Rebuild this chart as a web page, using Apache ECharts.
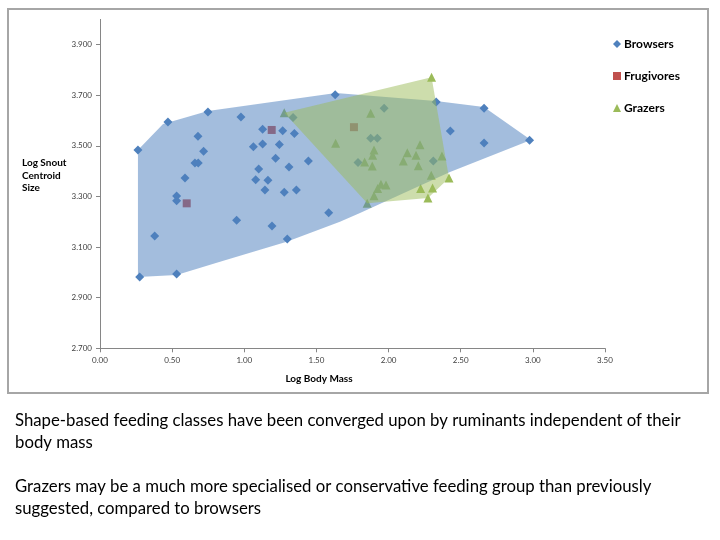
<!DOCTYPE html>
<html>
<head>
<meta charset="utf-8">
<script src="https://cdn.jsdelivr.net/npm/echarts@6/dist/echarts.min.js"></script>
<style>
  html, body { margin: 0; padding: 0; background: #fff; }
  #chart { width: 720px; height: 540px; }
</style>
</head>
<body>
<div id="chart"></div>
<script>
// points: [log body mass, log snout centroid size]
var browsers = [
  [0.263, 3.484], [0.471, 3.594], [0.748, 3.634], [0.977, 3.614], [1.630, 3.702],
  [2.330, 3.674], [2.662, 3.649], [2.977, 3.522], [2.662, 3.511], [2.428, 3.559],
  [1.969, 3.649], [1.338, 3.612], [1.127, 3.566], [1.266, 3.560], [1.347, 3.549],
  [0.679, 3.538], [1.063, 3.497], [1.127, 3.508], [1.243, 3.506], [0.718, 3.479],
  [0.658, 3.432], [0.681, 3.432], [1.217, 3.451], [1.444, 3.440], [1.310, 3.417],
  [1.100, 3.409], [0.589, 3.373], [1.079, 3.366], [1.164, 3.364], [1.143, 3.326],
  [1.277, 3.317], [1.361, 3.326], [0.531, 3.302], [0.531, 3.283], [0.947, 3.206],
  [1.192, 3.183], [1.585, 3.236], [0.379, 3.144], [1.298, 3.132], [0.275, 2.982],
  [0.531, 2.994], [1.876, 3.530], [1.922, 3.530], [1.788, 3.434], [2.310, 3.440]
];
var frugivores = [[1.190, 3.563], [0.601, 3.273], [1.760, 3.574]];
var grazers = [
  [2.298, 3.771], [1.277, 3.631], [1.876, 3.629], [1.633, 3.510], [1.899, 3.484],
  [1.890, 3.463], [1.834, 3.436], [1.887, 3.421], [2.218, 3.505], [2.130, 3.473],
  [2.190, 3.463], [2.102, 3.440], [2.206, 3.422], [2.370, 3.460], [2.296, 3.384],
  [2.419, 3.373], [1.982, 3.345], [1.947, 3.348], [1.924, 3.332], [1.899, 3.303],
  [1.852, 3.273], [2.222, 3.332], [2.305, 3.334], [2.273, 3.294]
];

// outlines of the two shaded regions (data units)
var browserHull = [
  [0.263, 2.982], [0.263, 3.484], [0.437, 3.587], [0.748, 3.638], [1.635, 3.709],
  [2.328, 3.677], [2.661, 3.654], [2.987, 3.523], [2.426, 3.397], [1.802, 3.235],
  [1.663, 3.200], [1.294, 3.121], [0.832, 3.042], [0.531, 2.990]
];
var grazerHull = [[1.277, 3.631], [2.298, 3.771], [2.419, 3.373], [2.273, 3.294], [1.852, 3.273]];

var xTicks = [0, 3.5, 0.5];          // min, max, step
var yTicks = [2.7, 4.0, 0.2];

var notes = 'Shape-based feeding classes have been converged upon by ruminants independent of their\nbody mass\n\nGrazers may be a much more specialised or conservative feeding group than previously\nsuggested, compared to browsers';

var font = "Lato, 'Liberation Sans', sans-serif";

// shaded region drawn over the markers (as in the original)
function hullSeries(hull, color, z) {
  return {
    type: 'custom',
    silent: true,
    zlevel: 1,
    z: z,
    data: hull,
    renderItem: function (params, api) {
      if (params.dataIndex !== 0) return null;
      return {
        type: 'polygon',
        shape: { points: hull.map(function (p) { return api.coord(p); }) },
        style: { fill: color, stroke: null }
      };
    }
  };
}

var myChart = echarts.init(document.getElementById('chart'));

var option = {
  animation: false,
  textStyle: { fontFamily: font },
  grid: { left: 100, right: 115, top: 19.4, bottom: 191.7 },
  legend: {
    orient: 'vertical',
    left: 613,
    top: 38,
    padding: 0,
    itemWidth: 8,
    itemHeight: 8,
    itemGap: 20,
    textStyle: { fontSize: 12, fontWeight: 'bold', color: '#000', fontFamily: font, padding: [0, 0, 0, -2] },
    data: [
      { name: 'Browsers', icon: 'diamond' },
      { name: 'Frugivores', icon: 'rect' },
      { name: 'Grazers', icon: 'triangle' }
    ]
  },
  xAxis: {
    type: 'value',
    min: xTicks[0], max: xTicks[1], interval: xTicks[2],
    splitLine: { show: false },
    axisLine: { lineStyle: { color: '#868686' } },
    axisTick: { length: 4, lineStyle: { color: '#868686' } },
    axisLabel: {
      fontSize: 8, color: '#404040', margin: 8,
      formatter: function (v) { return v.toFixed(2); }
    }
  },
  yAxis: {
    type: 'value',
    min: yTicks[0], max: yTicks[1], interval: yTicks[2],
    splitLine: { show: false },
    axisLine: { show: true, lineStyle: { color: '#868686' } },
    axisTick: { show: true, length: 4, lineStyle: { color: '#868686' } },
    axisLabel: {
      fontSize: 8, color: '#404040', margin: 8, showMaxLabel: false,
      formatter: function (v) { return v.toFixed(3); }
    }
  },
  series: [
    { name: 'Browsers', type: 'scatter', symbol: 'diamond', symbolSize: 9, z: 1,
      itemStyle: { color: '#4F81BD', opacity: 1 }, data: browsers },
    { name: 'Frugivores', type: 'scatter', symbol: 'rect', symbolSize: 8, z: 1,
      itemStyle: { color: '#C0504D', opacity: 1 }, data: frugivores },
    { name: 'Grazers', type: 'scatter', symbol: 'triangle', symbolSize: 9, z: 1,
      itemStyle: { color: '#9BBB59', opacity: 1 }, data: grazers },
    hullSeries(browserHull, 'rgba(79,129,189,0.52)', 3),
    hullSeries(grazerHull, 'rgba(155,187,89,0.5)', 4)
  ],
  graphic: [
    { type: 'rect', z: -1, silent: true,
      shape: { x: 8, y: 9, width: 700, height: 384 },
      style: { fill: null, stroke: '#a6a6a6', lineWidth: 2 } },
    { type: 'text', left: 22, top: 157, silent: true,
      style: { text: 'Log Snout\nCentroid\nSize', font: 'bold 10px ' + font, fill: '#000', lineHeight: 12.5 } },
    { type: 'text', x: 319, y: 379, silent: true,
      style: { text: 'Log Body Mass', font: 'bold 10px ' + font, fill: '#000', align: 'center', verticalAlign: 'middle' } },
    { type: 'text', left: 15, top: 410, silent: true,
      style: { text: notes, font: '16.75px ' + font, fill: '#000', lineHeight: 22 } }
  ]
};

myChart.setOption(option);

window.onresize = function () {
  myChart.resize();
};
</script>
</body>
</html>
